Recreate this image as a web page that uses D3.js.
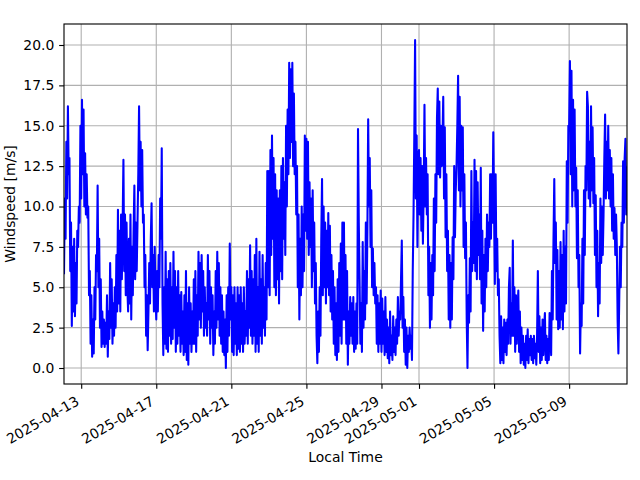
<!DOCTYPE html>
<html><head><meta charset="utf-8">
<script src="https://cdn.jsdelivr.net/npm/d3@7"></script>
<style>
body{margin:0;background:#fff}
svg{display:block}
text{font-family:"DejaVu Sans",sans-serif;font-size:13.9px;fill:#000}
</style></head><body>
<svg id="chart" width="640" height="480"></svg>
<script>
// ---- data (hourly windspeed, m/s) ----
const startTime = "2025-04-12T02:00:00Z";
const endTime = "2025-05-12T02:00:00Z";
const stepHours = 1;
const windspeed = [
  // 04-12 (02:00..23:00)
  5.8, 10.5, 8.0, 14.0, 10.5, 16.2, 12.0, 13.0, 6.0, 9.0, 2.6, 7.5, 3.5, 8.0, 3.2, 6.5, 4.0, 8.5, 7.5, 10.0, 9.0, 15.0,
  // 04-13
  10.5, 16.6, 12.0, 16.0, 10.0, 13.3, 9.5, 12.0, 9.3, 10.0, 4.5, 6.0, 1.5, 4.5, 0.7, 3.0, 0.9, 5.0, 3.0, 7.0, 6.0, 11.3, 5.0, 8.0,
  // 04-14
  2.5, 5.5, 1.3, 3.5, 1.5, 3.0, 1.3, 2.8, 1.5, 4.5, 0.7, 3.5, 1.8, 6.5, 2.5, 5.5, 1.5, 4.0, 2.0, 5.0, 2.5, 7.0, 3.5, 9.8,
  // 04-15
  4.0, 8.5, 3.5, 9.5, 5.5, 9.0, 12.9, 6.0, 9.5, 4.5, 9.0, 5.0, 3.5, 8.0, 4.0, 9.5, 3.0, 7.5, 4.5, 8.5, 11.3, 5.5, 9.0, 6.0,
  // 04-16
  9.0, 12.0, 16.2, 11.0, 14.0, 10.0, 13.5, 9.0, 9.5, 5.0, 7.0, 2.0, 4.5, 1.1, 3.5, 6.5, 4.0, 8.0, 10.2, 5.0, 7.0, 3.5, 7.5, 4.5,
  // 04-17
  3.0, 6.0, 3.5, 7.0, 5.0, 10.5, 8.0, 13.6, 4.0, 0.8, 5.0, 1.5, 7.2, 1.2, 5.5, 1.0, 6.0, 2.0, 6.5, 1.5, 5.0, 1.8, 7.2, 2.5,
  // 04-18
  6.0, 1.0, 5.0, 1.5, 6.0, 2.0, 4.5, 1.0, 4.7, 1.5, 3.5, 0.8, 4.5, 1.0, 6.0, 0.5, 4.0, 0.2, 5.0, 1.5, 4.0, 1.0, 3.5, 1.5,
  // 04-19
  5.5, 1.5, 6.0, 1.0, 4.5, 2.0, 7.2, 3.0, 6.5, 2.5, 7.0, 3.5, 6.0, 2.0, 5.0, 2.5, 4.0, 2.0, 7.0, 3.0, 6.0, 1.5, 5.0, 2.5,
  // 04-20
  4.5, 0.8, 3.5, 1.5, 6.0, 2.5, 7.2, 3.0, 6.5, 2.0, 5.0, 1.5, 4.5, 1.0, 3.5, 0.8, 3.0, 0.0, 4.5, 1.0, 5.0, 2.0, 7.7, 3.0,
  // 04-21
  5.0, 1.0, 4.5, 0.8, 5.0, 1.5, 4.0, 0.8, 5.0, 1.2, 4.5, 1.0, 5.0, 1.5, 4.0, 1.0, 5.0, 1.5, 3.5, 2.0, 6.0, 1.5, 5.5, 2.5,
  // 04-22
  7.6, 2.0, 6.0, 1.5, 5.5, 2.0, 7.0, 1.0, 8.0, 1.5, 5.0, 1.0, 7.2, 2.0, 5.5, 1.5, 7.0, 2.5, 5.0, 2.0, 6.5, 3.0, 12.2, 5.0,
  // 04-23
  12.2, 4.5, 13.5, 7.0, 14.4, 8.0, 13.0, 5.0, 12.0, 4.5, 11.0, 5.5, 10.5, 4.0, 11.0, 6.0, 12.5, 5.5, 13.0, 8.0, 11.5, 7.0, 15.0, 10.0,
  // 04-24
  16.0, 12.0, 18.9, 13.0, 18.5, 14.0, 18.9, 12.5, 17.0, 12.0, 14.0, 9.5, 12.5, 5.0, 9.5, 3.0, 8.0, 4.5, 10.0, 5.0, 9.5, 6.0, 14.4, 8.5,
  // 04-25
  14.2, 8.0, 14.0, 7.0, 11.5, 7.5, 10.5, 5.0, 11.0, 6.0, 9.0, 4.0, 6.5, 2.0, 0.3, 3.5, 1.0, 5.0, 2.0, 8.0, 11.7, 4.5, 10.0, 5.0,
  // 04-26
  9.0, 4.0, 8.5, 5.0, 9.6, 4.5, 8.8, 3.5, 7.0, 3.0, 6.0, 1.5, 5.0, 0.8, 4.0, 0.5, 5.5, 1.0, 6.5, 2.0, 7.7, 1.5, 9.0, 3.0,
  // 04-27
  9.0, 3.0, 7.0, 1.5, 6.0, 0.2, 3.5, 1.5, 4.4, 2.0, 4.0, 1.5, 4.4, 1.0, 3.5, 1.2, 4.0, 1.5, 14.8, 9.0, 5.5, 1.5, 4.0, 1.0,
  // 04-28
  7.8, 2.5, 6.0, 3.0, 9.0, 4.0, 8.5, 15.4, 10.0, 13.0, 7.5, 11.0, 5.0, 7.4, 4.5, 6.5, 4.0, 5.0, 1.5, 4.5, 1.0, 4.0, 1.5, 4.8,
  // 04-29
  1.0, 4.3, 1.5, 3.5, 0.8, 4.4, 1.0, 3.0, 0.6, 2.5, 0.3, 3.5, 0.8, 2.0, 0.5, 3.2, 1.0, 2.5, 0.8, 3.0, 1.5, 4.4, 2.0, 3.5,
  // 04-30
  3.0, 5.5, 7.9, 2.5, 4.4, 1.0, 3.0, 0.2, 2.5, 0.0, 2.0, 1.0, 2.5, 1.2, 2.0, 0.5, 6.0, 9.5, 14.5, 20.3, 10.5, 14.4, 7.5, 13.0,
  // 05-01
  13.5, 9.5, 13.0, 8.5, 12.5, 7.7, 11.0, 16.3, 10.0, 13.0, 9.5, 12.0, 4.5, 7.5, 2.5, 6.5, 3.0, 7.0, 4.5, 10.5, 6.0, 12.0, 9.0, 15.5,
  // 05-02
  17.3, 12.0, 16.5, 11.8, 15.0, 12.5, 14.0, 16.8, 10.5, 14.9, 8.1, 12.0, 6.0, 8.5, 3.0, 7.0, 2.5, 6.5, 3.0, 8.1, 5.5, 12.5, 8.1, 11.0,
  // 05-03
  12.5, 15.0, 18.1, 11.0, 16.8, 10.0, 15.0, 11.0, 14.9, 7.5, 12.0, 6.8, 9.0, 3.0, 0.0, 4.5, 2.8, 6.8, 3.5, 12.2, 6.0, 9.0, 6.5, 12.9,
  // 05-04
  6.0, 12.2, 5.5, 11.5, 7.0, 9.5, 5.5, 12.4, 4.0, 8.5, 2.3, 7.0, 3.5, 8.0, 5.0, 9.5, 6.0, 9.0, 7.5, 12.0, 8.0, 12.0, 9.0, 14.6,
  // 05-05
  10.0, 5.2, 12.0, 6.0, 8.0, 4.5, 5.5, 2.0, 0.3, 3.2, 0.5, 2.5, 0.3, 3.0, 1.0, 2.8, 0.8, 3.0, 1.5, 5.0, 6.2, 1.5, 4.0, 2.0,
  // 05-06
  7.9, 2.0, 5.0, 1.0, 4.5, 1.5, 3.5, 4.8, 1.0, 3.5, 0.3, 2.5, 0.5, 2.0, 0.2, 1.5, 0.0, 2.0, 0.5, 2.4, 0.3, 1.8, 0.8, 2.0,
  // 05-07
  0.5, 1.8, 0.3, 2.0, 0.6, 1.5, 0.2, 2.0, 6.0, 1.0, 3.2, 0.3, 2.5, 0.5, 3.0, 0.8, 2.5, 3.4, 0.5, 2.0, 0.3, 1.8, 0.5, 3.4,
  // 05-08
  2.0, 0.8, 6.0, 3.0, 8.0, 11.7, 6.5, 9.0, 3.0, 7.3, 2.4, 6.0, 2.5, 7.8, 3.0, 7.0, 2.4, 8.5, 3.5, 7.5, 4.0, 12.8, 9.0, 15.0,
  // 05-09
  15.0, 19.0, 12.0, 18.4, 10.0, 16.6, 11.0, 16.0, 10.0, 12.4, 6.8, 11.0, 5.0, 7.0, 0.9, 4.0, 2.6, 8.0, 4.0, 11.0, 7.0, 12.5, 11.0, 17.1,
  // 05-10
  16.2, 10.5, 14.0, 10.0, 16.2, 11.0, 14.9, 10.2, 13.0, 7.0, 10.7, 5.0, 8.5, 3.2, 6.5, 4.0, 10.5, 6.5, 10.0, 7.0, 9.5, 13.0, 15.7, 10.5,
  // 05-11
  14.0, 11.0, 15.0, 10.5, 13.5, 10.0, 13.0, 8.5, 12.0, 8.0, 9.9, 7.0, 9.5, 7.5, 3.0, 0.9, 4.0, 7.5, 5.0, 9.0, 7.5, 12.8, 9.0, 13.0,
  // 05-12 (00:00..02:00)
  14.2, 9.5, 12.5
];
const xTickDates = ["2025-04-13","2025-04-17","2025-04-21","2025-04-25","2025-04-29","2025-05-01","2025-05-05","2025-05-09"];
const yTicks = [0, 2.5, 5, 7.5, 10, 12.5, 15, 17.5, 20];
const yDomain = [-0.99, 21.30];
const xLabel = "Local Time";
const yLabel = "Windspeed [m/s]";

// ---- layout ----
const W = 640, H = 480;
const m = {left: 64, right: 627, top: 24, bottom: 384};
const tickLen = 4.86, lw = 1.11;

const t0 = new Date(startTime).getTime();
const points = windspeed.map((v, i) => ({t: new Date(t0 + i * stepHours * 3600e3), v}));

const x = d3.scaleUtc().domain([new Date(startTime), new Date(endTime)]).range([m.left, m.right]);
const y = d3.scaleLinear().domain(yDomain).range([m.bottom, m.top]);

const svg = d3.select("#chart");
svg.append("rect").attr("width", W).attr("height", H).attr("fill", "#fff");

svg.append("defs").append("clipPath").attr("id", "clip")
  .append("rect").attr("x", m.left).attr("y", m.top)
  .attr("width", m.right - m.left).attr("height", m.bottom - m.top);

const xTicks = xTickDates.map(s => new Date(s + "T00:00:00Z"));

// grid
const grid = svg.append("g").attr("stroke", "#b0b0b0").attr("stroke-width", lw);
grid.selectAll(".gx").data(xTicks).join("line")
  .attr("x1", d => x(d)).attr("x2", d => x(d)).attr("y1", m.top).attr("y2", m.bottom);
grid.selectAll(".gy").data(yTicks).join("line")
  .attr("y1", d => y(d)).attr("y2", d => y(d)).attr("x1", m.left).attr("x2", m.right);

// line
const line = d3.line().x(d => x(d.t)).y(d => y(d.v));
svg.append("path").datum(points)
  .attr("clip-path", "url(#clip)")
  .attr("fill", "none").attr("stroke", "#0000ff").attr("stroke-width", 2.08)
  .attr("stroke-linejoin", "round").attr("d", line);

// spines
svg.append("rect").attr("x", m.left).attr("y", m.top)
  .attr("width", m.right - m.left).attr("height", m.bottom - m.top)
  .attr("fill", "none").attr("stroke", "#000").attr("stroke-width", lw);

// x axis
const gx = svg.append("g").attr("transform", `translate(0,${m.bottom})`)
  .call(d3.axisBottom(x).tickValues(xTicks).tickSize(tickLen).tickFormat(d3.utcFormat("%Y-%m-%d")));
gx.select(".domain").remove();
gx.selectAll(".tick line").attr("stroke", "#000").attr("stroke-width", lw);
gx.selectAll(".tick text")
  .attr("x", 0).attr("y", 0).attr("dy", null)
  .attr("text-anchor", "end")
  .attr("transform", "translate(-1.6,20) rotate(-30)")
  .style("font-family", "'DejaVu Sans'").style("font-size", "13.9px").attr("fill", "#000");

// y axis
const gy = svg.append("g").attr("transform", `translate(${m.left},0)`)
  .call(d3.axisLeft(y).tickValues(yTicks).tickSize(tickLen).tickPadding(4.86).tickFormat(d3.format(".1f")));
gy.select(".domain").remove();
gy.selectAll(".tick line").attr("stroke", "#000").attr("stroke-width", lw);
gy.selectAll(".tick text").style("font-family", "'DejaVu Sans'").style("font-size", "13.9px").attr("fill", "#000");

// labels
svg.append("text").attr("x", (m.left + m.right) / 2).attr("y", 462)
  .attr("text-anchor", "middle").text(xLabel);
svg.append("text").attr("transform", `translate(14.5,${(m.top + m.bottom) / 2}) rotate(-90)`)
  .attr("text-anchor", "middle").text(yLabel);
</script>
</body></html>
